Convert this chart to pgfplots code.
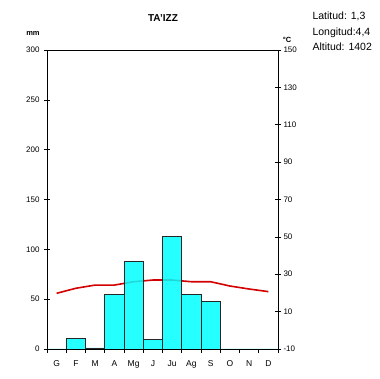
\documentclass[border=0pt]{standalone}
\usepackage{fontspec}
\setmainfont{Liberation Sans}
\usepackage{pgfplots}
\pgfplotsset{compat=1.18}
\definecolor{tline}{RGB}{210,0,0}
\definecolor{barc}{RGB}{0,255,255}
\begin{document}
\begin{tikzpicture}[x=1pt,y=1pt]
\useasboundingbox (0,0) rectangle (380,379);
% temperature axis (behind bars)
\begin{axis}[at={(47pt,30pt)}, anchor=south west, scale only axis,
  width=231pt, height=299pt,
  xmin=0, xmax=12, ymin=-10, ymax=150,
  axis y line*=right, axis x line=none,
  ytick={-10,10,...,150}, ytick align=center, major tick length=6pt,
  axis line style={line width=0.8pt, black},
  every tick/.style={black, line width=0.6pt},
  yticklabel style={font=\fontsize{8}{9}\selectfont, xshift=-1pt},
  /pgf/number format/assume math mode=true]
\addplot[tline, line width=1.6pt] coordinates {
(0.5,19.8) (1.5,22.5) (2.5,24.2) (3.5,24.2) (4.5,26.0) (5.5,26.9)
(6.5,26.9) (7.5,26.0) (8.5,26.0) (9.5,23.7) (10.5,22.1) (11.5,20.7)};
\end{axis}
% precipitation axis
\begin{axis}[at={(47pt,30pt)}, anchor=south west, scale only axis,
  width=231pt, height=299pt,
  xmin=0, xmax=12, ymin=0, ymax=300,
  ytick={0,50,...,300}, ytick pos=left, ytick align=center,
  xtick pos=bottom, xtick={0.5,1.5,...,11.5},
  xticklabels={G,F,M,A,Mg,J,Ju,Ag,S,O,N,D},
  minor xtick={0,...,12}, xtick align=outside,
  major tick length=6pt, minor tick length=4pt,
  major x tick style={draw=none},
  minor x tick style={black, line width=0.6pt},
  major y tick style={black, line width=0.6pt},
  axis line style={line width=0.8pt, black},
  yticklabel style={font=\fontsize{8}{9}\selectfont, xshift=-1pt},
  xticklabel style={font=\fontsize{8.5}{9}\selectfont, yshift=-2pt},
  /pgf/number format/assume math mode=true]
\addplot[ybar, bar width=1, fill=barc, fill opacity=0.85, draw=black!85, line width=0.8pt] coordinates {
(0.5,0) (1.5,11) (2.5,1) (3.5,55) (4.5,88) (5.5,10)
(6.5,113) (7.5,55) (8.5,48) (9.5,0) (10.5,0) (11.5,0)};
\end{axis}
\node[font=\bfseries\fontsize{10}{11}\selectfont] at (163,361) {TA'IZZ};
\node[font=\bfseries\fontsize{7.5}{8}\selectfont] at (33,346) {mm};
\node[font=\bfseries\fontsize{7.5}{8}\selectfont] at (287,339) {°C};
\node[font=\fontsize{10.5}{11}\selectfont, anchor=west] at (309,363) {Latitud: 1,3};
\node[font=\fontsize{10.5}{11}\selectfont, anchor=west] at (309,346) {Longitud:4,4};
\node[font=\fontsize{10.5}{11}\selectfont, anchor=west] at (309,332) {Altitud: 1402};
\end{tikzpicture}
\end{document}
